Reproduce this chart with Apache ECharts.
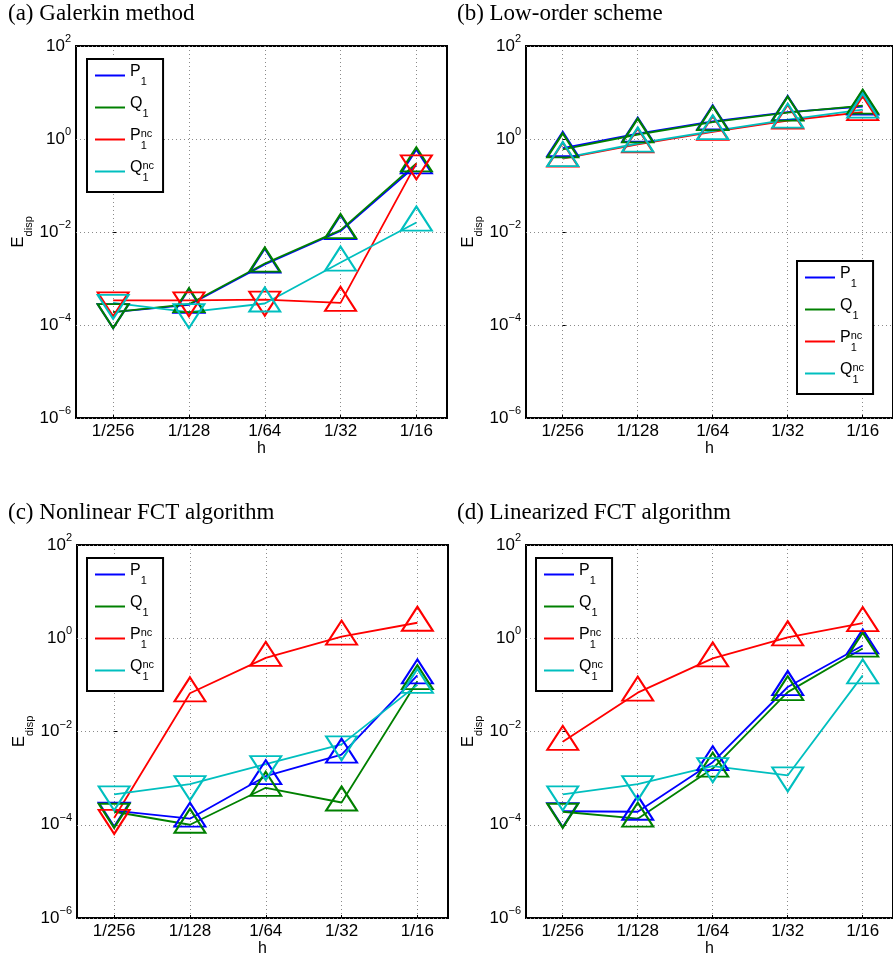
<!DOCTYPE html>
<html>
<head>
<meta charset="utf-8">
<title>E_disp vs h</title>
<script src="https://cdn.jsdelivr.net/npm/echarts@6/dist/echarts.min.js"></script>
<style>
  html, body { margin: 0; padding: 0; background: #fff; }
  #chart { width: 893px; height: 960px; }
</style>
</head>
<body>
<div id="chart"></div>
<script>
// x categories (mesh size)
const hLabels = ['1/256', '1/128', '1/64', '1/32', '1/16'];
// y tick labels as powers of ten
const yTickExponents = [-6, -4, -2, 0, 2];
const seriesNames = ['P1', 'Q1', 'P1nc', 'Q1nc'];
const seriesColors = ['#0000ff', '#008000', '#ff0000', '#00bfbf'];
const panelTitles = ['(a) Galerkin method', '(b) Low-order scheme',
  '(c) Nonlinear FCT algorithm', '(d) Linearized FCT algorithm'];

// (a) Galerkin method
const galerkinP1 = [1.9e-4, 2.7e-4, 2.0e-3, 1.05e-2, 0.27];
const galerkinQ1 = [1.9e-4, 2.8e-4, 2.1e-3, 1.1e-2, 0.3];
const galerkinP1nc = [3.4e-4, 3.4e-4, 3.5e-4, 3.0e-4, 0.3];
const galerkinQ1nc = [3.0e-4, 1.9e-4, 2.9e-4, 2.2e-3, 1.6e-2];

// (b) low-order scheme
const lowP1 = [0.64, 1.3, 2.4, 3.8, 5.0];
const lowQ1 = [0.6, 1.25, 2.3, 3.7, 5.2];
const lowP1nc = [0.38, 0.77, 1.42, 2.5, 3.8];
const lowQ1nc = [0.39, 0.8, 1.47, 2.6, 4.3];

// (c) nonlinear FCT
const nlP1 = [2.0e-4, 1.35e-4, 1.1e-3, 3.2e-3, 0.16];
const nlQ1 = [1.9e-4, 1.0e-4, 6.2e-4, 3.0e-4, 0.12];
const nlP1nc = [1.4e-4, 0.066, 0.38, 1.08, 2.15];
const nlQ1nc = [4.5e-4, 7.4e-4, 2.0e-3, 5.3e-3, 0.1];

// (d) linearized FCT
const linP1 = [1.95e-4, 1.9e-4, 2.2e-3, 0.09, 0.7];
const linQ1 = [1.9e-4, 1.35e-4, 1.6e-3, 0.07, 0.6];
const linP1nc = [6.0e-3, 0.068, 0.37, 1.05, 2.1];
const linQ1nc = [4.5e-4, 7.4e-4, 1.8e-3, 1.14e-3, 0.16];

// marker direction per point: 'u' = up triangle, 'd' = down triangle
const galerkinDirs = [
  ['d', 'u', 'u', 'u', 'u'],
  ['d', 'u', 'u', 'u', 'u'],
  ['d', 'd', 'd', 'u', 'd'],
  ['d', 'd', 'u', 'u', 'u']
];
const lowDirs = [
  ['u', 'u', 'u', 'u', 'u'],
  ['u', 'u', 'u', 'u', 'u'],
  ['u', 'u', 'u', 'u', 'u'],
  ['u', 'u', 'u', 'u', 'u']
];
const nlDirs = [
  ['d', 'u', 'u', 'u', 'u'],
  ['d', 'u', 'u', 'u', 'u'],
  ['d', 'u', 'u', 'u', 'u'],
  ['d', 'd', 'd', 'd', 'u']
];
const linDirs = [
  ['d', 'u', 'u', 'u', 'u'],
  ['d', 'u', 'u', 'u', 'u'],
  ['u', 'u', 'u', 'u', 'u'],
  ['d', 'd', 'd', 'd', 'u']
];

const panels = [
  { values: [galerkinP1, galerkinQ1, galerkinP1nc, galerkinQ1nc], dirs: galerkinDirs },
  { values: [lowP1, lowQ1, lowP1nc, lowQ1nc], dirs: lowDirs },
  { values: [nlP1, nlQ1, nlP1nc, nlQ1nc], dirs: nlDirs },
  { values: [linP1, linQ1, linP1nc, linQ1nc], dirs: linDirs }
];

const gridPos = [
  { left: 76, top: 46, width: 371, height: 372 },
  { left: 526, top: 46, width: 371, height: 372 },
  { left: 77, top: 545, width: 371, height: 373 },
  { left: 526, top: 545, width: 371, height: 373 }
];
const legendPos = [
  { left: 87, top: 59 },
  { left: 797, top: 261 },
  { left: 87, top: 558 },
  { left: 536, top: 558 }
];
const titlePos = [
  { left: 8, top: 2 },
  { left: 457, top: 2 },
  { left: 8, top: 501 },
  { left: 457, top: 501 }
];

const sans = 'Liberation Sans';
const legendText = {
  P1: '{b|P}{sub|1}',
  Q1: '{b|Q}{sub|1}',
  P1nc: '{b|P}{sup|nc}{sub|1}',
  Q1nc: '{b|Q}{sup|nc}{sub|1}'
};

const gridDot = { color: '#8a8a8a', width: 1, type: [1, 3] };
const yTicks = yTickExponents.map(e => Math.pow(10, e));

var option = {
  animation: false,
  backgroundColor: '#fff',
  title: panelTitles.map((t, i) => ({
    text: t,
    left: titlePos[i].left,
    top: titlePos[i].top,
    padding: 0,
    textStyle: { fontFamily: 'Liberation Serif', fontSize: 23, fontWeight: 'normal', color: '#000' }
  })),
  grid: gridPos.map(g => Object.assign({
    show: true, borderColor: '#000', borderWidth: 2, backgroundColor: 'transparent'
  }, g)),
  legend: legendPos.map(p => ({
    left: p.left,
    top: p.top,
    orient: 'vertical',
    selectedMode: false,
    backgroundColor: '#fff',
    borderColor: '#000',
    borderWidth: 2,
    borderRadius: 0,
    padding: [5, 9, 9, 8],
    itemGap: 9,
    itemWidth: 30,
    itemHeight: 2,
    data: seriesNames.map((n, i) => ({
      name: n, icon: 'rect', itemStyle: { color: seriesColors[i], borderWidth: 0 }
    })),
    formatter: name => legendText[name],
    textStyle: {
      fontFamily: sans,
      color: '#000',
      rich: {
        b: { fontFamily: sans, fontSize: 16, color: '#000', verticalAlign: 'top', padding: [0, 0, 0, 0] },
        sup: { fontFamily: sans, fontSize: 11, color: '#000', verticalAlign: 'top', width: 0 },
        sub: { fontFamily: sans, fontSize: 11, color: '#000', verticalAlign: 'top', padding: [12, 0, 0, 0] }
      }
    }
  })),
  xAxis: gridPos.map((g, i) => ({
    gridIndex: i,
    type: 'value',
    min: -0.49,
    max: 4.404,
    name: 'h',
    nameLocation: 'middle',
    nameGap: 21,
    nameTextStyle: { fontFamily: sans, fontSize: 16, color: '#000' },
    axisLine: { show: false },
    axisTick: { inside: true, length: 3, customValues: [0, 1, 2, 3, 4], lineStyle: { color: '#000', width: 1 } },
    axisLabel: {
      customValues: [0, 1, 2, 3, 4],
      formatter: v => hLabels[Math.round(v)],
      margin: 5,
      fontFamily: sans, fontSize: 17, color: '#000'
    },
    splitLine: { show: true, lineStyle: gridDot }
  })),
  yAxis: gridPos.map((g, i) => ({
    gridIndex: i,
    type: 'log',
    logBase: 10,
    min: 1e-6,
    max: 1e2,
    splitNumber: 4,
    name: '{e|E}{s|disp}',
    nameLocation: 'middle',
    nameGap: 42,
    nameTextStyle: {
      rich: {
        e: { fontFamily: sans, fontSize: 17, color: '#000', verticalAlign: 'top', lineHeight: 24 },
        s: { fontFamily: sans, fontSize: 11, color: '#000', verticalAlign: 'bottom' }
      }
    },
    axisLine: { show: false },
    axisTick: { inside: true, length: 3, customValues: yTicks, lineStyle: { color: '#000', width: 1 } },
    axisLabel: {
      customValues: yTicks,
      margin: 5,
      formatter: v => {
        const e = Math.round(Math.log10(v));
        return '{b|10}{sup|' + (e < 0 ? '\u2212' + (-e) : e) + '}';
      },
      rich: {
        b: { fontFamily: sans, fontSize: 17, color: '#000', verticalAlign: 'bottom', padding: [7, 0, 7, 0] },
        sup: { fontFamily: sans, fontSize: 11, color: '#000', verticalAlign: 'top', padding: [3, 0, 0, 0] }
      }
    },
    splitLine: { show: true, lineStyle: gridDot },
    minorTick: { show: false }
  })),
  series: []
};

panels.forEach((p, pi) => {
  p.values.forEach((vals, si) => {
    const c = seriesColors[si];
    option.series.push({
      name: seriesNames[si],
      type: 'line',
      xAxisIndex: pi,
      yAxisIndex: pi,
      symbol: 'triangle',
      symbolSize: [31, 24],
      color: c,
      lineStyle: { color: c, width: 1.8 },
      itemStyle: { color: 'rgba(0,0,0,0)', borderColor: c, borderWidth: 2 },
      emphasis: { disabled: true },
      data: vals.map((v, i) => {
        const down = p.dirs[si][i] === 'd';
        return {
          value: [i, v],
          symbolRotate: down ? 180 : 0,
          symbolOffset: [0, down ? 4 : -4]
        };
      })
    });
  });
});

var myChart = echarts.init(document.getElementById('chart'));
myChart.setOption(option);
</script>
</body>
</html>
